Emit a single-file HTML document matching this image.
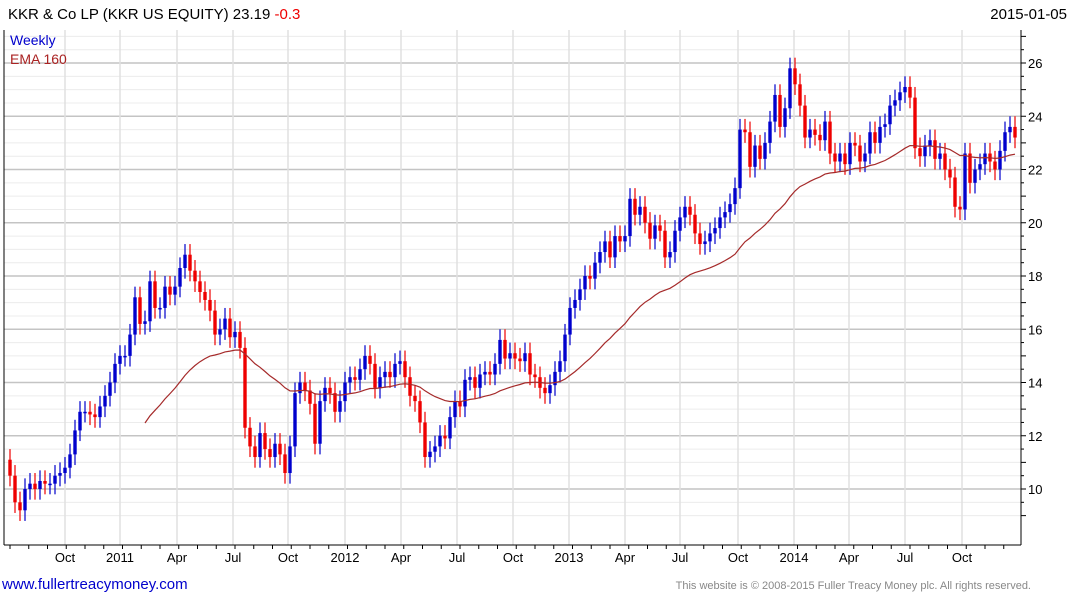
<!DOCTYPE html>
<html><head><meta charset="utf-8"><style>
body{margin:0;background:#fff;font-family:"Liberation Sans",sans-serif;}
#wrap{position:relative;width:1075px;height:600px;overflow:hidden;}
.t{position:absolute;white-space:nowrap;}
</style></head><body>
<div id="wrap">
<svg id="svg" width="1075" height="600" style="position:absolute;left:0;top:0"></svg>
<div class="t" style="left:8px;top:6px;font-size:15px;color:#000">KKR &amp; Co LP (KKR US EQUITY) 23.19 <span style="color:#e00">-0.3</span></div>
<div class="t" style="right:8px;top:6px;font-size:15px;color:#000">2015-01-05</div>
<div class="t" style="left:10px;top:32px;font-size:14px;color:#00c">Weekly</div>
<div class="t" style="left:10px;top:51px;font-size:14px;color:#a22">EMA 160</div>
<div class="t" style="left:2px;top:576px;font-size:15px;color:#00c">www.fullertreacymoney.com</div>
<div class="t" style="right:44px;top:580px;font-size:11px;color:#888">This website is © 2008-2015 Fuller Treacy Money plc. All rights reserved.</div>
</div>
<script>
const closes=[10.5,9.5,9.2,10,10.2,10,10.3,10.2,10.2,10.5,10.6,10.8,11.3,12.2,12.9,12.9,12.8,12.7,13.1,13.5,14,14.7,15,
15,15.8,17.2,16.2,16.3,17.8,16.8,16.8,17.6,17.3,17.6,18.3,18.8,18.2,17.8,17.4,17.1,16.7,15.8,16.0,16.4,15.7,15.9,15.3,12.3,11.6,11.2,12.1,11.5,11.2,11.7,11.3,10.6,11.6,13.6,14,13.7,13.2,11.7,13.3,13.8,13.6,12.9,13.3,14,14.2,14.1,14.5,15,14.7,13.8,14.2,14.4,14.2,14.7,14.8,14.2,13.5,13.3,12.5,11.2,11.4,11.6,12.0,11.9,12.7,13.3,13.1,14.1,14.2,13.8,14.3,14.4,14.3,14.7,15.6,14.9,15.1,14.9,14.8,15.1,14.3,14.2,13.8,13.6,13.9,14.4,14.8,15.8,16.8,17.1,17.5,18,17.9,18.5,18.9,19.3,18.7,19.5,19.3,19.5,20.9,20.3,20.6,20,19.4,19.9,19.7,18.7,18.9,19.7,20.2,20.6,20.3,19.6,19.2,19.3,19.6,19.8,20.2,20.4,20.7,21.3,23.5,23.4,22.1,22.9,22.4,23,23.8,24.8,23.6,24.3,25.8,25.2,24.4,23.2,23.5,23.3,23.1,23.8,22.6,22.3,22.6,22.2,23,22.9,22.3,22.6,23.4,23,23.6,23.7,24.4,24.6,24.9,25.1,24.7,22.8,22.5,22.9,23.1,22.4,22.6,22.0,21.7,20.6,20.5,22.6,21.5,22,22.2,22.6,22.3,22,22.7,23.4,23.6,23.2];
const firstOpen=[11.1];
const yTicks=[10,12,14,16,18,20,22,24,26];
const xLabels=["Oct","2011","Apr","Jul","Oct","2012","Apr","Jul","Oct","2013","Apr","Jul","Oct","2014","Apr","Jul","Oct"];
const xLabelPos=[65,120,177,233,288,345,401,457,513,569,625,680,738,794,849,905,962];
const emaPeriod=[38];
const NS="http://www.w3.org/2000/svg";
const svg=document.getElementById('svg');
const X0=10,X1=1015,PL=4,PR=1021,PT=30,PB=545;
const y=v=>489-(v-10)*26.625;
const x=i=>X0+(X1-X0)*i/(closes.length-1);
function mk(t,a,p){const e=document.createElementNS(NS,t);for(const k in a)e.setAttribute(k,a[k]);(p||svg).appendChild(e);return e;}
const grid=mk('g',{});


for(let v=9;v<=27;v+=0.5){const yy=y(v);if(yy<PT||yy>PB)continue;
 const major=(v%2===0);const minor1=(v%1===0);
 const l=mk('line',{x1:PL,x2:PR,y1:yy,y2:yy,stroke:major?'#c4c4c4':'#ececec','stroke-width':major?1.5:1},grid);
 
 mk('line',{x1:PR,x2:PR+(minor1?5:3),y1:yy,y2:yy,stroke:'#000'});}
xLabelPos.forEach((p,i)=>{const l=mk('line',{x1:p,x2:p,y1:PT,y2:PB,stroke:'#e0e0e0','stroke-width':1.5},grid);
 
 const t=mk('text',{x:p,y:562,'text-anchor':'middle','font-size':13,fill:'#000'});t.textContent=xLabels[i];
 });
for(let m=0;m<54;m++){const p=10+m*18.75;if(p>PR)break;mk('line',{x1:p,x2:p,y1:PB,y2:PB+4,stroke:'#000'});}
mk('line',{x1:PR,x2:PR,y1:PT,y2:PB,stroke:'#000'});
mk('line',{x1:PL,x2:PR,y1:PB,y2:PB,stroke:'#000'});
mk('line',{x1:PL,x2:PL,y1:PT,y2:PB,stroke:'#000'});
yTicks.forEach(v=>{const t=mk('text',{x:1028,y:y(v)+5,'font-size':13,fill:'#000'});t.textContent=v;
 });
const cg=mk('g',{});


closes.forEach((c,i)=>{const o=i?closes[i-1]:firstOpen[0];const up=c>=o;const col=up?'#0000cc':'#ee0000';
 const hi=Math.max(o,c)+0.4,lo=Math.min(o,c)-0.4,xx=x(i);
 const w=mk('line',{x1:xx,x2:xx,y1:y(hi),y2:y(lo),stroke:col,'stroke-width':1.2},cg);
 
 const h=Math.max(1.5,Math.abs(y(o)-y(c)));
 const b=mk('rect',{x:xx-1.7,y:Math.min(y(o),y(c)),width:3.4,height:h,fill:col},cg);
 });
const k=2/(emaPeriod[0]+1);const start=27;let e=closes.slice(0,start).reduce((a,b)=>a+b,0)/start;
let pts=[];for(let i=start;i<closes.length;i++){e=closes[i]*k+e*(1-k);pts.push(x(i).toFixed(1)+','+y(e).toFixed(1));}
const pl=mk('polyline',{points:pts.join(' '),fill:'none',stroke:'#a52a2a','stroke-width':1.2});


</script>
</body></html>
